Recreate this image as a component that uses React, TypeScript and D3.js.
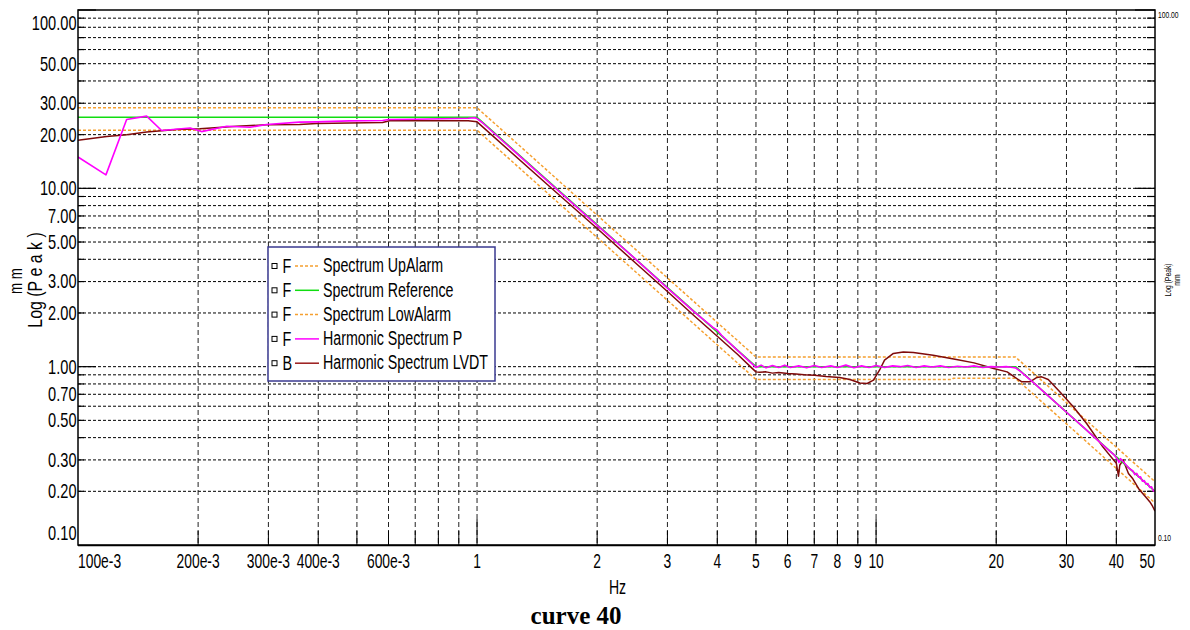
import React from "react";
import * as d3 from "d3";

const W = 1190;
const H = 630;
const X0 = 78;
const X1 = 1155;
const Y0 = 10;
const Y1 = 545;

const SANS = "'Liberation Sans', Arial, sans-serif";
const SERIF = "'Liberation Serif', 'Times New Roman', serif";

// axis ticks
const xTickValues = [0.1, 0.2, 0.3, 0.4, 0.6, 1, 2, 3, 4, 5, 6, 7, 8, 9, 10, 20, 30, 40, 50];
const xTickLabels = ["100e-3", "200e-3", "300e-3", "400e-3", "600e-3", "1", "2", "3", "4", "5", "6", "7", "8", "9", "10", "20", "30", "40", "50"];
const xGridValues = [0.2, 0.3, 0.4, 0.5, 0.6, 0.7, 0.8, 0.9, 1, 2, 3, 4, 5, 6, 7, 8, 9, 10, 20, 30, 40];
const xMajorValues = [1, 10];
const yTickValues = [100, 50, 30, 20, 10, 7, 5, 3, 2, 1, 0.7, 0.5, 0.3, 0.2, 0.1];
const yTickLabels = ["100.00", "50.00", "30.00", "20.00", "10.00", "7.00", "5.00", "3.00", "2.00", "1.00", "0.70", "0.50", "0.30", "0.20", "0.10"];
const yGridValues = [0.2, 0.3, 0.4, 0.5, 0.6, 0.7, 0.8, 0.9, 1, 2, 3, 4, 5, 6, 7, 8, 9, 10, 20, 30, 40, 50, 60, 70, 80, 90];
const yMajorValues = [1, 10, 100];

// Spectrum Reference
const refF = [0.1, 1, 5, 22.36, 50];
const refV = [25, 25, 1, 1, 0.2];
// Spectrum UpAlarm
const upF = [0.1, 1, 5, 22.36, 50];
const upV = [28.3, 28.3, 1.132, 1.132, 0.2263];
// Spectrum LowAlarm
const lowF = [0.1, 1, 5, 15.5, 15.6, 22.36, 50];
const lowV = [21.2, 21.2, 0.848, 0.848, 0.86, 0.86, 0.172];

// Harmonic Spectrum P
const pF = [
  0.1, 0.1175, 0.1324, 0.1486, 0.162, 0.191, 0.204, 0.236, 0.27, 0.297, 0.359, 0.396, 0.479, 0.58, 0.6, 0.706, 0.95, 0.985,
  1.0, 1.03, 1.5, 2, 2.5, 3, 3.5, 3.9, 4.0, 4.1, 4.5, 5.0,
  5.15, 5.3, 5.5, 5.7, 5.9, 6.1, 6.4, 6.7, 7.0, 7.3, 7.7, 8.0, 8.4, 8.8, 9.2, 9.6, 10.0, 10.5, 11, 11.5, 12, 12.6, 13.2, 13.8,
  14.5, 15.2, 16, 16.8, 17.6, 18.5, 19.4, 20.3, 21.2, 22.0, 22.36,
  23, 25, 27, 30, 33, 36, 38, 39.5, 40.2, 40.6, 41, 41.5, 43, 44, 44.5, 45, 45.5, 46, 46.5, 47, 47.5, 48, 48.5, 49, 49.5, 50,
];
const pV = [
  15.0, 11.9, 24.3, 25.4, 21.1, 21.8, 20.8, 22.3, 22.0, 22.8, 23.5, 23.6, 23.9, 24.0, 24.3, 24.4, 24.7, 24.9,
  24.6, 23.4, 11.0, 6.2, 4.0, 2.76, 2.03, 1.66, 1.6, 1.5, 1.23, 0.99,
  1.02, 0.985, 1.015, 0.99, 1.02, 0.99, 1.01, 0.985, 1.015, 0.99, 1.01, 0.99, 1.02, 0.985, 1.01, 0.99, 1.015, 0.99, 1.01, 1.0, 1.015, 0.99, 1.01,
  0.995, 1.01, 0.99, 1.005, 0.995, 1.01, 0.99, 1.0, 0.995, 1.0, 0.99, 0.985,
  0.94, 0.8, 0.685, 0.555, 0.46, 0.385, 0.345, 0.32, 0.305, 0.29, 0.305, 0.295, 0.27, 0.26, 0.248, 0.252, 0.24, 0.241, 0.228, 0.23, 0.219, 0.221, 0.21, 0.212, 0.201, 0.2,
];

// Harmonic Spectrum LVDT
const lvdtF = [
  0.1, 0.118, 0.1324, 0.1486, 0.1766, 0.202, 0.25, 0.297, 0.359, 0.396, 0.58, 0.604, 0.95, 1.0,
  1.5, 2, 2.5, 3, 3.5, 4, 4.5, 4.9, 5.0,
  5.1, 5.3, 5.5, 5.7, 6.0, 6.3, 6.6, 7.0, 7.5, 8.1, 8.6, 9.1, 9.5, 9.85, 10.2, 10.5, 11.05, 11.7, 12.4, 13.9, 15.9, 17.6,
  19.7, 21.3, 22.3, 23.2, 24.3, 25.3, 26, 27, 28.9, 31.2, 33.7, 37, 40, 40.5, 40.8, 41.6, 42.9, 44, 45.7, 47.4, 48.5, 49.3, 50,
];
const lvdtV = [
  18.6, 19.5, 20.0, 20.7, 21.4, 21.6, 22.3, 22.7, 22.8, 23.1, 23.4, 23.9, 23.9, 23.6,
  10.5, 5.95, 3.8, 2.64, 1.93, 1.48, 1.17, 0.975, 0.935,
  0.93, 0.935, 0.92, 0.928, 0.915, 0.91, 0.9, 0.895, 0.88, 0.87, 0.848, 0.81, 0.805, 0.84, 0.955, 1.087, 1.186, 1.21, 1.2, 1.16, 1.097, 1.05,
  0.977, 0.935, 0.87, 0.822, 0.822, 0.87, 0.877, 0.848, 0.722, 0.596, 0.48, 0.355, 0.287, 0.243, 0.28, 0.3, 0.252, 0.235, 0.204, 0.186, 0.175, 0.165, 0.155,
];

const legendNames = ["Spectrum UpAlarm", "Spectrum Reference", "Spectrum LowAlarm", "Harmonic Spectrum P", "Harmonic Spectrum LVDT"];
const legendFlags = ["F", "F", "F", "F", "B"];

const ORANGE = "#f5a030";
const GREEN = "#10dd10";
const MAGENTA = "#ff00ff";
const DARKRED = "#7f0a0a";

type TxtProps = {
  x: number;
  y: number;
  text: string;
  size?: number;
  sx?: number;
  anchor?: "start" | "middle" | "end";
  rot?: number;
  weight?: string;
  family?: string;
  fill?: string;
};

function Txt({ x, y, text, size = 19, sx = 0.74, anchor = "middle", rot = 0, weight = "normal", family = SANS, fill = "#000" }: TxtProps) {
  return (
    <text
      transform={`translate(${x},${y}) rotate(${rot}) scale(${sx},1)`}
      textAnchor={anchor}
      dominantBaseline="central"
      fontSize={size}
      fontFamily={family}
      fontWeight={weight}
      fill={fill}
      style={{ whiteSpace: "pre" }}
    >
      {text}
    </text>
  );
}

export default function App() {
  const x = d3.scaleLog().domain([0.1, 50]).range([X0, X1]);
  const y = d3.scaleLog().domain([0.1, 100]).range([Y1, Y0]);

  const line = d3
    .line<[number, number]>()
    .x((d) => x(d[0]))
    .y((d) => y(d[1]));

  const zip = (f: number[], v: number[]) => f.map((ff, i) => [ff, v[i]] as [number, number]);

  const series = [
    { name: "up", d: line(zip(upF, upV)), color: ORANGE, dash: "3,2", w: 1.5 },
    { name: "low", d: line(zip(lowF, lowV)), color: ORANGE, dash: "3,2", w: 1.5 },
    { name: "lvdt", d: line(zip(lvdtF, lvdtV)), color: DARKRED, dash: undefined, w: 1.5 },
    { name: "ref", d: line(zip(refF, refV)), color: GREEN, dash: undefined, w: 1.5 },
    { name: "p", d: line(zip(pF, pV)), color: MAGENTA, dash: undefined, w: 1.6 },
  ];

  const legendColors = [ORANGE, GREEN, ORANGE, MAGENTA, "#9a1a1a"];
  const legendDash = ["3,2", undefined, "3,2", undefined, undefined];

  const LX = 268;
  const LY = 247;
  const LW = 227;
  const LH = 134;
  const rowY = (i: number) => LY + 19 + i * 24.3;

  return (
    <svg
      width={W}
      height={H}
      viewBox={`0 0 ${W} ${H}`}
      style={{ position: "absolute", left: 0, top: 0, background: "#fff" }}
    >
      <rect x={0} y={0} width={W} height={H} fill="#fff" />
      <defs>
        <clipPath id="plotclip">
          <rect x={X0} y={Y0} width={X1 - X0} height={Y1 - Y0} />
        </clipPath>
      </defs>

      {/* horizontal grid */}
      {yGridValues.map((v) => (
        <line key={"hg" + v} x1={X0} x2={X1} y1={y(v)} y2={y(v)} stroke="#000" strokeWidth={1} strokeDasharray="3,2" />
      ))}
      {/* vertical grid */}
      {xGridValues.map((v) => (
        <line key={"vg" + v} x1={x(v)} x2={x(v)} y1={Y0} y2={Y1} stroke="#222" strokeWidth={1} strokeDasharray="5,3" />
      ))}

      {/* left / right solid ticks */}
      {yGridValues.concat([100]).map((v) => {
        const major = yMajorValues.includes(v);
        return (
          <g key={"yt" + v}>
            <line x1={X0} x2={X0 + (major ? 18 : 6)} y1={y(v)} y2={y(v)} stroke="#000" strokeWidth={1.2} />
            <line x1={X1 - (major ? 20 : 8)} x2={X1} y1={y(v)} y2={y(v)} stroke="#000" strokeWidth={1.2} />
          </g>
        );
      })}
      {/* bottom ticks */}
      {xGridValues.map((v) => {
        const major = xMajorValues.includes(v);
        return <line key={"xt" + v} x1={x(v)} x2={x(v)} y1={Y1} y2={Y1 - (major ? 26 : 14)} stroke="#000" strokeWidth={1} />;
      })}

      {/* curves */}
      <g clipPath="url(#plotclip)">
        {series.map((s) => (
          <path
            key={s.name}
            d={s.d || ""}
            fill="none"
            stroke={s.color}
            strokeWidth={s.w}
            strokeDasharray={s.dash}
            strokeLinejoin="round"
          />
        ))}
      </g>

      {/* frame */}
      <rect x={X0} y={Y0} width={X1 - X0} height={Y1 - Y0} fill="none" stroke="#000" strokeWidth={1.5} />
      <line x1={X0} x2={X1} y1={Y1 + 0.5} y2={Y1 + 0.5} stroke="#000" strokeWidth={1.5} />

      {/* y tick labels */}
      {yTickValues.map((v, i) => {
        let yy = y(v);
        if (v === 100) yy = 23;
        if (v === 0.1) yy = 533;
        return <Txt key={"yl" + v} x={76.5} y={yy} text={yTickLabels[i]} anchor="end" size={20} sx={0.73} />;
      })}

      {/* x tick labels */}
      {xTickValues.map((v, i) => {
        let anchor: "start" | "middle" | "end" = "middle";
        const xx = x(v);
        if (i === 0) anchor = "start";
        if (i === xTickValues.length - 1) anchor = "end";
        return <Txt key={"xl" + v} x={xx} y={562} text={xTickLabels[i]} anchor={anchor} size={19.5} sx={0.71} />;
      })}

      {/* right axis labels */}
      <Txt x={1158} y={15} text="100.00" anchor="start" size={9} sx={0.75} />
      <Txt x={1158} y={538} text="0.10" anchor="start" size={9} sx={0.75} />
      <Txt x={1168} y={280} text="Log (Peak)" rot={-90} size={8.5} sx={0.8} />
      <Txt x={1177} y={280} text="mm" rot={-90} size={8.5} sx={0.8} />

      {/* axis titles */}
      <Txt x={35} y={280} text="Log (P e a k )" rot={-90} size={21} sx={0.76} />
      <Txt x={16} y={281} text="m m" rot={-90} size={18} sx={0.74} />
      <Txt x={617.5} y={588} text="Hz" size={19.5} sx={0.72} />

      {/* legend */}
      <rect x={LX} y={LY} width={LW} height={LH} fill="#fff" stroke="#3a3a90" strokeWidth={1.5} />
      {legendNames.map((n, i) => {
        const ry = rowY(i);
        return (
          <g key={"lg" + i}>
            <rect x={272} y={ry - 2.5} width={5} height={5} fill="#fff" stroke="#000" strokeWidth={1} />
            <Txt x={282.5} y={ry} text={legendFlags[i]} anchor="start" size={19.5} sx={0.74} />
            <line x1={295} x2={319} y1={ry} y2={ry} stroke={legendColors[i]} strokeWidth={1.5} strokeDasharray={legendDash[i]} />
            <Txt x={323} y={ry} text={n} anchor="start" size={19.5} sx={0.73} />
          </g>
        );
      })}

      {/* caption */}
      <Txt x={576} y={615} text="curve 40" size={25} sx={1} weight="bold" family={SERIF} />
    </svg>
  );
}
